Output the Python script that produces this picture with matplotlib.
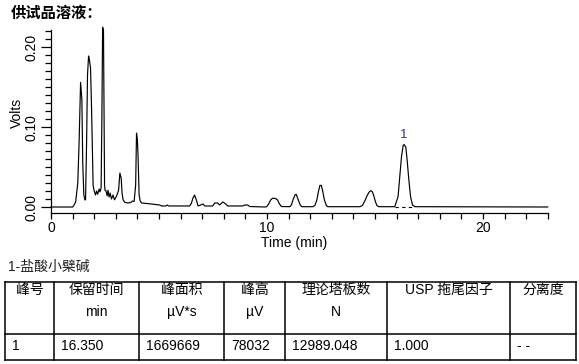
import matplotlib
matplotlib.use("Agg")
import matplotlib.pyplot as plt
from matplotlib.ticker import MultipleLocator, FormatStrFormatter

plt.rcParams['font.family'] = ['Liberation Sans', 'Noto Sans CJK SC']

# chromatogram trace: time (min) / signal (volts)
time_min = [0.00, 1.01, 1.14, 1.24, 1.30, 1.37, 1.43, 1.47, 1.52, 1.57,
            1.60, 1.65, 1.69, 1.74, 1.78, 1.83, 1.88, 1.92, 1.95, 1.99,
            2.06, 2.11, 2.16, 2.23, 2.27, 2.32, 2.355, 2.39, 2.43, 2.46,
            2.48, 2.50, 2.55, 2.60, 2.64, 2.69, 2.74, 2.80, 2.87, 2.94,
            3.04, 3.13, 3.19, 3.25, 3.29, 3.34, 3.41, 3.55, 3.69, 3.78,
            3.85, 3.92, 3.96, 4.00, 4.03, 4.08, 4.13, 4.20, 4.57, 5.03,
            5.12, 5.31, 5.38, 5.45, 6.42, 6.50, 6.57, 6.65, 6.73, 6.81,
            6.93, 7.04, 7.12, 7.49, 7.58, 7.72, 7.81, 7.96, 8.09, 8.18,
            8.88, 8.97, 9.11, 9.20, 9.43, 9.90, 9.99, 10.08, 10.17, 10.26,
            10.40, 10.49, 10.58, 10.67, 11.06, 11.13, 11.22, 11.31, 11.36, 11.45,
            11.54, 11.61, 12.12, 12.22, 12.31, 12.38, 12.45, 12.52, 12.59, 12.66,
            12.75, 12.82, 14.30, 14.42, 14.53, 14.64, 14.74, 14.81, 14.88, 14.95,
            15.02, 15.09, 15.18, 15.92, 16.07, 16.15, 16.23, 16.31, 16.35, 16.43,
            16.49, 16.57, 16.65, 16.74, 16.85, 23.00]
volts = [0.0, 0.0, 0.006, 0.030, 0.080, 0.156, 0.134, 0.055, 0.015, 0.009,
         0.009, 0.084, 0.165, 0.189, 0.184, 0.174, 0.121, 0.071, 0.0275, 0.021,
         0.015, 0.020, 0.016, 0.0225, 0.019, 0.024, 0.109, 0.225, 0.221, 0.096,
         0.0275, 0.021, 0.020, 0.014, 0.021, 0.0125, 0.0175, 0.010, 0.015, 0.009,
         0.014, 0.021, 0.0425, 0.036, 0.0175, 0.009, 0.006, 0.005, 0.0056, 0.0075,
         0.007, 0.0275, 0.0925, 0.084, 0.065, 0.015, 0.0075, 0.005, 0.004, 0.0025,
         0.0013, 0.0013, 0.0025, 0.0013, 0.0013, 0.0046, 0.011, 0.015, 0.0088, 0.0013,
         0.0025, 0.0038, 0.0013, 0.0013, 0.005, 0.005, 0.0025, 0.0063, 0.0038, 0.0013,
         0.0013, 0.0025, 0.0025, 0.0006, 0.0004, 0.0, 0.0004, 0.0038, 0.0088, 0.011,
         0.0106, 0.0088, 0.0038, 0.0006, 0.0004, 0.0025, 0.010, 0.0156, 0.0156, 0.0088,
         0.0025, 0.0004, 0.0004, 0.0019, 0.0088, 0.0188, 0.027, 0.027, 0.0188, 0.0088,
         0.0019, 0.0004, 0.0004, 0.0019, 0.0075, 0.0144, 0.019, 0.0204, 0.019, 0.0138,
         0.0069, 0.0019, 0.0004, 0.0004, 0.0129, 0.038, 0.063, 0.0775, 0.078, 0.075,
         0.059, 0.034, 0.0129, 0.0025, 0.0004, 0.0]

peak_names = ["1"]
peak_rt = [16.35]
peak_height = [0.078]
peak_start = [15.93]
peak_end = [16.80]

compound = "1-盐酸小檗碱"
col_head = ["峰号", "保留时间", "峰面积", "峰高", "理论塔板数", "USP 拖尾因子", "分离度"]
col_unit = ["", "min", "µV*s", "µV", "N", "", ""]
row_vals = ["1", "16.350", "1669669", "78032", "12989.048", "1.000", "- -"]

W, H = 579, 364
fig = plt.figure(figsize=(W / 100, H / 100), dpi=100)

ax = fig.add_axes([51 / W, 1 - 213 / H, 496.7 / W, 183 / H])
ax.plot(time_min, volts, color='black', lw=0.85, clip_on=False)
for s, e in zip(peak_start, peak_end):
    ax.plot([s, e], [0.0004, 0.0004], color='black', lw=0.8, ls=(0, (3, 3)))
for name, rt, h in zip(peak_names, peak_rt, peak_height):
    ax.annotate(name, (rt, h), xytext=(0, 3), textcoords='offset points',
                ha='center', va='bottom', fontsize=9.5, color='#3a2d8f')

ax.set_xlim(0, 23.0)
ax.set_ylim(-0.0075, 0.2215)
ax.spines['top'].set_visible(False)
ax.spines['right'].set_visible(False)
for sp in ('left', 'bottom'):
    ax.spines[sp].set_linewidth(0.9)
ax.xaxis.set_major_locator(MultipleLocator(10))
ax.xaxis.set_minor_locator(MultipleLocator(1))
ax.yaxis.set_major_locator(MultipleLocator(0.1))
ax.yaxis.set_minor_locator(MultipleLocator(0.01))
ax.yaxis.set_major_formatter(FormatStrFormatter('%.2f'))
ax.tick_params(axis='x', which='both', length=4, width=0.9, labelsize=10, pad=2)
ax.tick_params(axis='y', which='major', length=7, width=0.9, labelsize=10, pad=2)
ax.tick_params(axis='y', which='minor', length=4, width=0.9)
for lab in ax.get_yticklabels():
    lab.set_rotation(90)
    lab.set_va('center')
ax.set_xlabel("Time (min)", fontsize=10)
ax.set_ylabel("Volts", fontsize=10)
ax.xaxis.set_label_coords((294 - 51) / 496.7, -(243 - 213) / 183, transform=ax.transAxes)
ax.yaxis.set_label_coords(-(51 - 17) / 496.7, (213 - 113) / 183, transform=ax.transAxes)
ax.xaxis.label.set_va('center')
ax.yaxis.label.set_va('center')

fig.text(11 / W, 1 - 14 / H, "供试品溶液：", fontsize=11, fontweight='bold', va='center')

# result table in pixel coordinates
tab = fig.add_axes([0, 0, 1, 1])
tab.set_xlim(0, W)
tab.set_ylim(H, 0)
tab.axis('off')
edges = [5, 54, 139, 224, 285, 387, 510, 576]
rows = [281.5, 334, 360]
tab.text(8, 267, compound, fontsize=10, va='center', color='#202020')
for y in rows:
    tab.plot([edges[0], edges[-1]], [y, y], color='black', lw=1.1)
for x in edges:
    tab.plot([x, x], [rows[0], rows[-1]], color='black', lw=1.1)
for i in range(len(col_head)):
    cx = (edges[i] + edges[i + 1]) / 2
    tab.text(cx, 290, col_head[i], fontsize=10, ha='center', va='center')
    tab.text(cx, 312, col_unit[i], fontsize=10, ha='center', va='center')
    tab.text(edges[i] + 7, 346, row_vals[i], fontsize=10, ha='left', va='center')

fig.savefig("out.png", dpi=100)
